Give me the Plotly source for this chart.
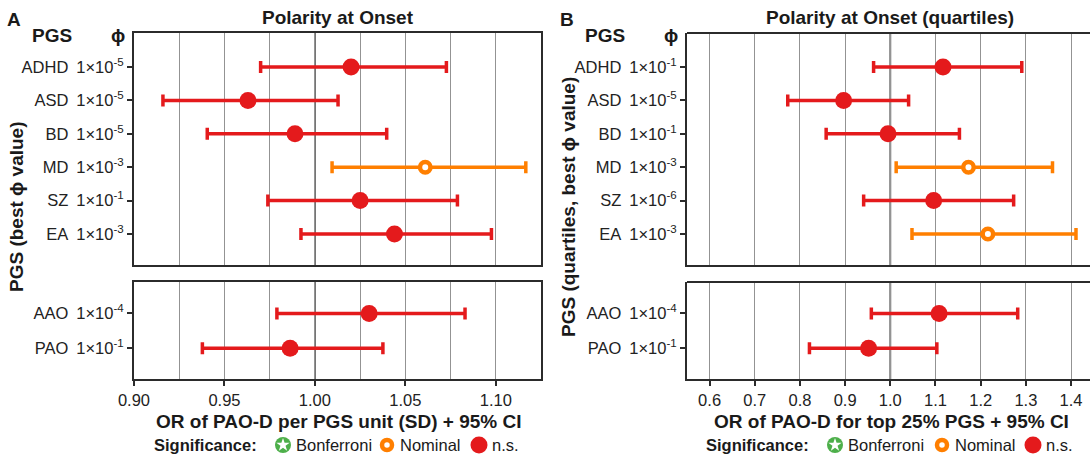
import plotly.graph_objects as go

W, H = 1090, 459
RED = "#E41A1C"
ORANGE = "#FF7F00"
GREEN = "#4DAF4A"
DARK = "#2b2b2b"
GRID = "#939393"
FONT = "Liberation Sans, Arial, Helvetica, sans-serif"

# ---------------- data ----------------
top_pgs = ["ADHD", "ASD", "BD", "MD", "SZ", "EA"]
bot_pgs = ["AAO", "PAO"]

# Panel A: OR per PGS unit (SD)
a_top_phi = ["-5", "-5", "-5", "-3", "-1", "-3"]
a_top_or = [1.020, 0.963, 0.989, 1.061, 1.025, 1.044]
a_top_lo = [0.970, 0.916, 0.9405, 1.0095, 0.974, 0.9923]
a_top_hi = [1.0727, 1.0128, 1.0397, 1.1166, 1.0788, 1.0976]
a_top_sig = ["n.s.", "n.s.", "n.s.", "Nominal", "n.s.", "n.s."]

a_bot_phi = ["-4", "-1"]
a_bot_or = [1.030, 0.9863]
a_bot_lo = [0.979, 0.9378]
a_bot_hi = [1.083, 1.0376]
a_bot_sig = ["n.s.", "n.s."]

# Panel B: OR for top 25% PGS (quartiles)
b_top_phi = ["-1", "-5", "-1", "-3", "-6", "-3"]
b_top_or = [1.1166, 0.8967, 0.995, 1.173, 1.096, 1.216]
b_top_lo = [0.963, 0.773, 0.858, 1.013, 0.941, 1.048]
b_top_hi = [1.291, 1.0405, 1.153, 1.359, 1.273, 1.411]
b_top_sig = ["n.s.", "n.s.", "n.s.", "Nominal", "n.s.", "Nominal"]

b_bot_phi = ["-4", "-1"]
b_bot_or = [1.108, 0.952]
b_bot_lo = [0.958, 0.821]
b_bot_hi = [1.282, 1.103]
b_bot_sig = ["n.s.", "n.s."]

a_ticks = [0.90, 0.95, 1.00, 1.05, 1.10]
b_ticks = [0.6, 0.7, 0.8, 0.9, 1.0, 1.1, 1.2, 1.3, 1.4]

# ---------------- figure ----------------
fig = go.Figure()

STYLE = {
    "n.s.": dict(marker=dict(symbol="circle", size=17, color=RED, line=dict(width=0)), color=RED),
    "Nominal": dict(marker=dict(symbol="circle", size=10.5, color="white",
                                line=dict(width=4.5, color=ORANGE)), color=ORANGE),
}


def add_panel(pgs, orv, lo, hi, sig, xa, ya):
    for s in ["n.s.", "Nominal"]:
        idx = [i for i, v in enumerate(sig) if v == s]
        if not idx:
            continue
        st = STYLE[s]
        fig.add_trace(go.Scatter(
            x=[orv[i] for i in idx], y=[i for i in idx],
            mode="markers", marker=st["marker"],
            error_x=dict(type="data", symmetric=False,
                         array=[hi[i] - orv[i] for i in idx],
                         arrayminus=[orv[i] - lo[i] for i in idx],
                         color=st["color"], thickness=3.5, width=6),
            xaxis=xa, yaxis=ya, showlegend=False, hoverinfo="skip"))


add_panel(top_pgs, a_top_or, a_top_lo, a_top_hi, a_top_sig, "x", "y")
add_panel(bot_pgs, a_bot_or, a_bot_lo, a_bot_hi, a_bot_sig, "x2", "y2")
add_panel(top_pgs, b_top_or, b_top_lo, b_top_hi, b_top_sig, "x3", "y3")
add_panel(bot_pgs, b_bot_or, b_bot_lo, b_bot_hi, b_bot_sig, "x4", "y4")


def px(v):
    return v / W


def py(v):
    return 1 - v / H


A_DOM = [px(134), px(541)]
B_DOM = [px(687), 1.0]
TOP_DOM = [py(265), py(33)]
BOT_DOM = [py(379), py(282)]


def ylabels(pgs, phi):
    return [f"{p}\u2009 1\u00d710<sup>{e}</sup>" for p, e in zip(pgs, phi)]


tickfont = dict(family=FONT, size=16.5, color="#222")

common_x = dict(showgrid=True, gridcolor=GRID, gridwidth=1, zeroline=False,
                linecolor=DARK, linewidth=2, tickfont=tickfont, automargin=False,
                ticklen=5, tickwidth=1.5, tickcolor=DARK, fixedrange=True)

xa_a = dict(common_x, range=[0.90, 1.125], tickvals=a_ticks, tickformat=".2f",
            minor=dict(dtick=0.025, tick0=0.9, showgrid=True, gridcolor=GRID, gridwidth=1, ticks=""),
            domain=A_DOM, showline=True, mirror=True)
xa_b = dict(common_x, range=[0.55, 1.442], tickvals=b_ticks, tickformat=".1f",
            domain=B_DOM, showline=True, mirror=False)

common_y = dict(showgrid=False, zeroline=False, showline=True, linecolor=DARK, linewidth=2,
                ticks="outside", ticklen=5, tickwidth=1.5, tickcolor=DARK, tickfont=tickfont,
                fixedrange=True, automargin=False)

fig.update_layout(
    width=W, height=H, margin=dict(l=0, r=0, t=0, b=0, pad=0, autoexpand=False),
    paper_bgcolor="white", plot_bgcolor="rgba(0,0,0,0)",
    font=dict(family=FONT, color="#222"),
    showlegend=False,
    xaxis=dict(xa_a, anchor="y", showticklabels=False, ticks=""),
    xaxis2=dict(xa_a, anchor="y2", ticks="outside"),
    xaxis3=dict(xa_b, anchor="y3", showticklabels=False, ticks=""),
    xaxis4=dict(xa_b, anchor="y4", ticks="outside"),
    yaxis=dict(common_y, domain=TOP_DOM, anchor="x", range=[5.93, -1.02], mirror=True,
               tickvals=list(range(len(top_pgs))), ticktext=ylabels(top_pgs, a_top_phi)),
    yaxis2=dict(common_y, domain=BOT_DOM, anchor="x2", range=[1.88, -0.9], mirror=True,
                tickvals=list(range(len(bot_pgs))), ticktext=ylabels(bot_pgs, a_bot_phi)),
    yaxis3=dict(common_y, domain=TOP_DOM, anchor="x3", range=[5.93, -1.02],
                tickvals=list(range(len(top_pgs))), ticktext=ylabels(top_pgs, b_top_phi)),
    yaxis4=dict(common_y, domain=BOT_DOM, anchor="x4", range=[1.88, -0.9],
                tickvals=list(range(len(bot_pgs))), ticktext=ylabels(bot_pgs, b_bot_phi)),
    xaxis5=dict(domain=[0, 1], range=[0, W], visible=False, anchor="y5", fixedrange=True, automargin=False),
    yaxis5=dict(domain=[0, 1], range=[H, 0], visible=False, anchor="x5", fixedrange=True, automargin=False),
)

shapes = []
# reference line at OR = 1
for xa, ya in [("x", "y"), ("x2", "y2"), ("x3", "y3"), ("x4", "y4")]:
    shapes.append(dict(type="line", xref=xa, yref=f"{ya} domain", x0=1, x1=1, y0=0, y1=1,
                       line=dict(color="#505050", width=1.8), layer="below"))
# top border of panel B boxes (no right border: cropped)
for xa, ya in [("x3", "y3"), ("x4", "y4")]:
    shapes.append(dict(type="line", xref=f"{xa} domain", yref=f"{ya} domain",
                       x0=0, x1=1, y0=1, y1=1, line=dict(color=DARK, width=2)))
fig.update_layout(shapes=shapes)

ann = []


def text(x, y, s, size=16.5, bold=False, anchor="center", angle=0):
    ann.append(dict(x=px(x), y=py(y), xref="paper", yref="paper", text=f"<b>{s}</b>" if bold else s,
                    showarrow=False, xanchor=anchor, yanchor="middle", textangle=angle,
                    font=dict(family=FONT, size=size, color="#1a1a1a")))


# panel letters and titles
text(14, 19, "A", 19, True)
text(567, 19, "B", 19, True)
text(338, 18, "Polarity at Onset", 19, True)
text(890, 18, "Polarity at Onset (quartiles)", 19, True)
# column headers
text(52, 36, "PGS", 19, True)
text(118, 36, "\u03d5", 19, True)
text(605, 36, "PGS", 19, True)
text(671, 36, "\u03d5", 19, True)
# y titles
text(17, 207, "PGS (best \u03d5 value)", 19, True, angle=-90)
text(569, 207, "PGS (quartiles, best \u03d5 value)", 19, True, angle=-90)
# x titles
text(338, 421, "OR of PAO-D per PGS unit (SD) + 95% CI", 19, True)
text(891, 421, "OR of PAO-D for top 25% PGS + 95% CI", 19, True)

# legends
LEG_Y = 445
legend_sets = [
    dict(sig_end=259, g=283, o=387, r=479),
    dict(sig_end=811, g=835, o=942, r=1033),
]
gx, gy, ox, rx = [], [], [], []
for L in legend_sets:
    text(L["sig_end"], LEG_Y, "Significance:", 16.5, True, anchor="right")
    text(L["g"] + 11, LEG_Y, "Bonferroni", 16.5, anchor="left")
    text(L["o"] + 11, LEG_Y, "Nominal", 16.5, anchor="left")
    text(L["r"] + 11, LEG_Y, "n.s.", 16.5, anchor="left")
    gx.append(L["g"]); ox.append(L["o"]); rx.append(L["r"])
ly = [LEG_Y, LEG_Y]
fig.add_trace(go.Scatter(x=gx, y=ly, mode="markers", xaxis="x5", yaxis="y5",
                         marker=dict(symbol="circle", size=16, color=GREEN), hoverinfo="skip"))
fig.add_trace(go.Scatter(x=gx, y=ly, mode="markers", xaxis="x5", yaxis="y5",
                         marker=dict(symbol="star", size=10, color="white"), hoverinfo="skip"))
fig.add_trace(go.Scatter(x=ox, y=ly, mode="markers", xaxis="x5", yaxis="y5",
                         marker=dict(symbol="circle", size=10, color="white",
                                     line=dict(width=4.5, color=ORANGE)), hoverinfo="skip"))
fig.add_trace(go.Scatter(x=rx, y=ly, mode="markers", xaxis="x5", yaxis="y5",
                         marker=dict(symbol="circle", size=17, color=RED), hoverinfo="skip"))

fig.update_layout(annotations=ann)
fig.write_html("out.html")
